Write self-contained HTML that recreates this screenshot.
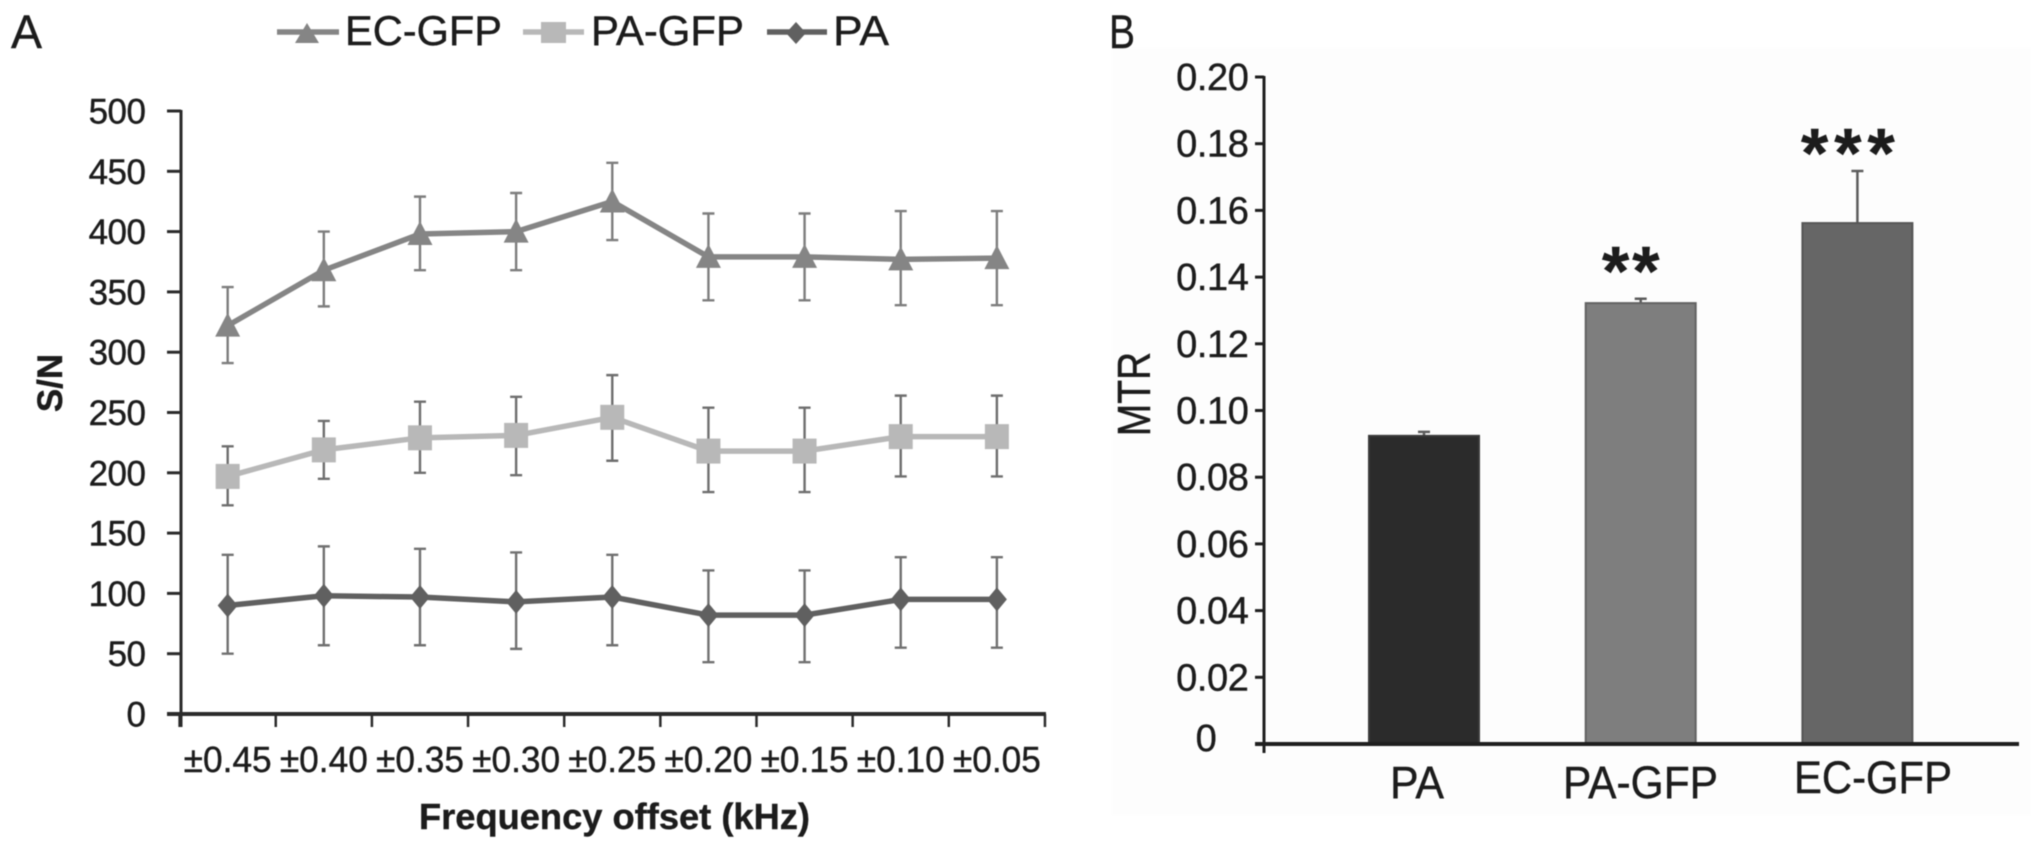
<!DOCTYPE html>
<html lang="en">
<head>
<meta charset="utf-8">
<title>S/N and MTR charts</title>
<style>
  html, body { margin: 0; padding: 0; background: #fff; width: 2031px; height: 848px; overflow: hidden; }
  svg { display: block; filter: blur(0.6px); }
  text { font-family: "Liberation Sans", sans-serif; fill: #1c1c1c; stroke: #1c1c1c; stroke-width: 0.4px; }
</style>
</head>
<body>
<svg id="figure" xmlns="http://www.w3.org/2000/svg" width="2031" height="848" viewBox="0 0 2031 848">
  <rect x="1112" y="48" width="919" height="767" fill="#fdfdfd"/>
  <text x="11" y="48" font-size="47" textLength="31" lengthAdjust="spacingAndGlyphs">A</text>
  <text x="1109" y="48" font-size="47" textLength="26" lengthAdjust="spacingAndGlyphs">B</text>

  <g>
    <g>
      <line x1="277" y1="32" x2="339" y2="32" stroke="#858585" stroke-width="5.5"/>
      <polygon points="307,23 319,43 295,43" fill="#858585"/>
      <text x="345" y="45" font-size="42" textLength="157" lengthAdjust="spacingAndGlyphs">EC-GFP</text>
    </g>
    <g>
      <line x1="523" y1="32" x2="584" y2="32" stroke="#b8b8b8" stroke-width="5.5"/>
      <rect x="541" y="22" width="25" height="21" fill="#b8b8b8"/>
      <text x="591" y="45" font-size="42" textLength="153" lengthAdjust="spacingAndGlyphs">PA-GFP</text>
    </g>
    <g>
      <line x1="767" y1="32" x2="827" y2="32" stroke="#606060" stroke-width="5.5"/>
      <polygon points="796,22 806,33 796,44 786,33" fill="#606060"/>
      <text x="833" y="45" font-size="42" textLength="56" lengthAdjust="spacingAndGlyphs">PA</text>
    </g>
  </g>

  <text transform="translate(62,383) rotate(-90)" text-anchor="middle" font-size="35" font-weight="bold">S/N</text>
  <text x="419" y="829" font-size="36" font-weight="bold" textLength="391" lengthAdjust="spacingAndGlyphs">Frequency offset (kHz)</text>
  <text transform="translate(1150,394) rotate(-90) scale(1,1.18)" text-anchor="middle" font-size="39">MTR</text>

  <g id="chart-a"></g>
  <g id="chart-b"></g>
</svg>

<script>
// ---- Chart A data ----
const offsetLabels = ['±0.45','±0.40','±0.35','±0.30','±0.25','±0.20','±0.15','±0.10','±0.05'];
const snTicks = [0,50,100,150,200,250,300,350,400,450,500];

const ecGfpValues = [322,368,398,400,425,379,379,377,378];
const ecGfpUpper  = [354,400,429,432,457,415,415,417,417];
const ecGfpLower  = [291,338,368,368,393,343,343,339,339];

const paGfpValues = [197,219,229,231,246,218,218,230,230];
const paGfpUpper  = [222,243,259,263,281,254,254,264,264];
const paGfpLower  = [173,195,200,198,210,184,184,197,197];

const paValues = [90,98,97,93,97,82,82,95,95];
const paUpper  = [132,139,137,134,132,119,119,130,130];
const paLower  = [50,57,57,54,57,43,43,55,55];

// ---- Chart B data ----
const mtrGroups = ['PA','PA-GFP','EC-GFP'];
const mtrValues = [0.0924,0.1322,0.1562];
const mtrUpper  = [0.0936,0.1335,0.1718];
const mtrTicks  = [0,0.02,0.04,0.06,0.08,0.10,0.12,0.14,0.16,0.18,0.20];
const mtrStars  = ['','**','***'];

const SVG_NS = 'http://www.w3.org/2000/svg';
function make(parent, tag, attrs, content) {
  const el = document.createElementNS(SVG_NS, tag);
  for (const k in attrs) el.setAttribute(k, attrs[k]);
  if (content !== undefined) el.textContent = content;
  parent.appendChild(el);
  return el;
}

// ---- Chart A axes ----
const aY0 = 714, aYScale = 1.206, aLeft = 179.6, aBand = 96.15;
function snY(v) { return aY0 - v * aYScale; }
function offsetX(i) { return aLeft + aBand * (i + 0.5); }

const chartA = document.getElementById('chart-a');

const aYAxis = make(chartA, 'line', {x1:181, y1:snY(500)-1, x2:181, y2:aY0+13, stroke:'#2b2b2b', 'stroke-width':3});



const aXAxis = make(chartA, 'line', {x1:167, y1:aY0, x2:aLeft+aBand*offsetLabels.length+1, y2:aY0, stroke:'#2b2b2b', 'stroke-width':4});



snTicks.forEach(function (t) {
  const mark = make(chartA, 'line', {x1:167, y1:snY(t), x2:181, y2:snY(t), stroke:'#2b2b2b', 'stroke-width':3});
  
  
  const label = make(chartA, 'text', {x:145.5, y:snY(t)+12.5, 'text-anchor':'end', 'font-size':35, 'letter-spacing':-0.5}, String(t));
  
  
});

for (let k = 0; k <= offsetLabels.length; k++) {
  const tx = aLeft + aBand * k;
  const mark = make(chartA, 'line', {x1:tx, y1:aY0, x2:tx, y2:aY0+13, stroke:'#2b2b2b', 'stroke-width':2.5});
  
  
}
offsetLabels.forEach(function (lab, i) {
  const label = make(chartA, 'text', {x:offsetX(i)-44, y:772, 'font-size':36, textLength:88, lengthAdjust:'spacingAndGlyphs'}, lab);
  
  
});

function drawSeries(name, values, upper, lower, color, errColor, marker) {
  const g = make(chartA, 'g', {});
  
  

  values.forEach(function (v, i) {
    const x = offsetX(i);
    const err = make(g, 'path', {
      d: 'M' + x + ' ' + snY(upper[i]) + 'V' + snY(lower[i]) +
         'M' + (x-6) + ' ' + snY(upper[i]) + 'H' + (x+6) +
         'M' + (x-6) + ' ' + snY(lower[i]) + 'H' + (x+6),
      fill:'none', stroke:errColor, 'stroke-width':2.4
    });
    
    
  });

  const pts = values.map(function (v, i) { return offsetX(i) + ',' + snY(v); }).join(' ');
  const line = make(g, 'polyline', {points:pts, fill:'none', stroke:color, 'stroke-width':5.5});
  
  

  values.forEach(function (v, i) {
    const x = offsetX(i), y = snY(v);
    let m;
    if (marker === 'triangle') {
      m = make(g, 'polygon', {points:x+','+(y-13)+' '+(x+12.5)+','+(y+11)+' '+(x-12.5)+','+(y+11), fill:color});
    } else if (marker === 'square') {
      m = make(g, 'rect', {x:x-12, y:y-12.5, width:24, height:25, fill:color});
    } else {
      m = make(g, 'polygon', {points:x+','+(y-12)+' '+(x+10)+','+y+' '+x+','+(y+12)+' '+(x-10)+','+y, fill:color});
    }
    
    
  });
}

drawSeries('series-ec-gfp', ecGfpValues, ecGfpUpper, ecGfpLower, '#858585', '#7d7d7d', 'triangle');
drawSeries('series-pa-gfp', paGfpValues, paGfpUpper, paGfpLower, '#b8b8b8', '#6e6e6e', 'square');
drawSeries('series-pa', paValues, paUpper, paLower, '#606060', '#707070', 'diamond');

// ---- Chart B axes ----
const bY0 = 744, bYScale = 3335, bFirst = 1424, bStep = 216.7, bWidth = 110;
function mtrY(v) { return bY0 - v * bYScale; }
function groupX(i) { return bFirst + bStep * i; }

const chartB = document.getElementById('chart-b');
const barFills = ['#2b2b2b','#7e7e7e','#666666'];
const barStrokes = ['#3a3a3a','#626262','#565656'];
const labelBaselines = [798,798,793];
const labelWidths = [54,155,158];
const labelLefts = [1390,1563,1794];
const starLeft = [0,1602,1801];
const starBase = [0,295,177];
const starGap = [0,3,6];

mtrValues.forEach(function (v, i) {
  const x = groupX(i);
  const err = make(chartB, 'path', {
    d:'M'+x+' '+mtrY(v)+'V'+mtrY(mtrUpper[i])+'M'+(x-6)+' '+mtrY(mtrUpper[i])+'H'+(x+6),
    fill:'none', stroke:'#5c5c5c', 'stroke-width':2.5
  });
  
  

  const bar = make(chartB, 'rect', {x:x-bWidth/2, y:mtrY(v), width:bWidth, height:bY0-mtrY(v), fill:barFills[i], stroke:barStrokes[i], 'stroke-width':2});
  
  

  const label = make(chartB, 'text', {x:labelLefts[i], y:labelBaselines[i], 'font-size':45, textLength:labelWidths[i], lengthAdjust:'spacingAndGlyphs'}, mtrGroups[i]);
  
  

  if (mtrStars[i]) {
    const stars = make(chartB, 'text', {x:starLeft[i], y:starBase[i], 'font-size':70, 'font-weight':'bold', 'letter-spacing':starGap[i], fill:'#000'}, mtrStars[i]);
    
    
  }
});

const bYAxis = make(chartB, 'line', {x1:1264, y1:mtrY(0.2)-1, x2:1264, y2:bY0+9, stroke:'#1f1f1f', 'stroke-width':3});



const bXAxis = make(chartB, 'line', {x1:1255, y1:bY0, x2:2019, y2:bY0, stroke:'#1f1f1f', 'stroke-width':4});



mtrTicks.forEach(function (t) {
  const mark = make(chartB, 'line', {x1:1255, y1:mtrY(t), x2:1264, y2:mtrY(t), stroke:'#1f1f1f', 'stroke-width':3});
  
  
  const isZero = t === 0;
  const label = make(chartB, 'text', {
    x: isZero ? 1206 : 1248.5,
    y: mtrY(t) + (isZero ? 7 : 13),
    'text-anchor': isZero ? 'middle' : 'end',
    'font-size': 38,
    'letter-spacing': -0.4
  }, isZero ? '0' : t.toFixed(2));
  
  
});
</script>
</body>
</html>
